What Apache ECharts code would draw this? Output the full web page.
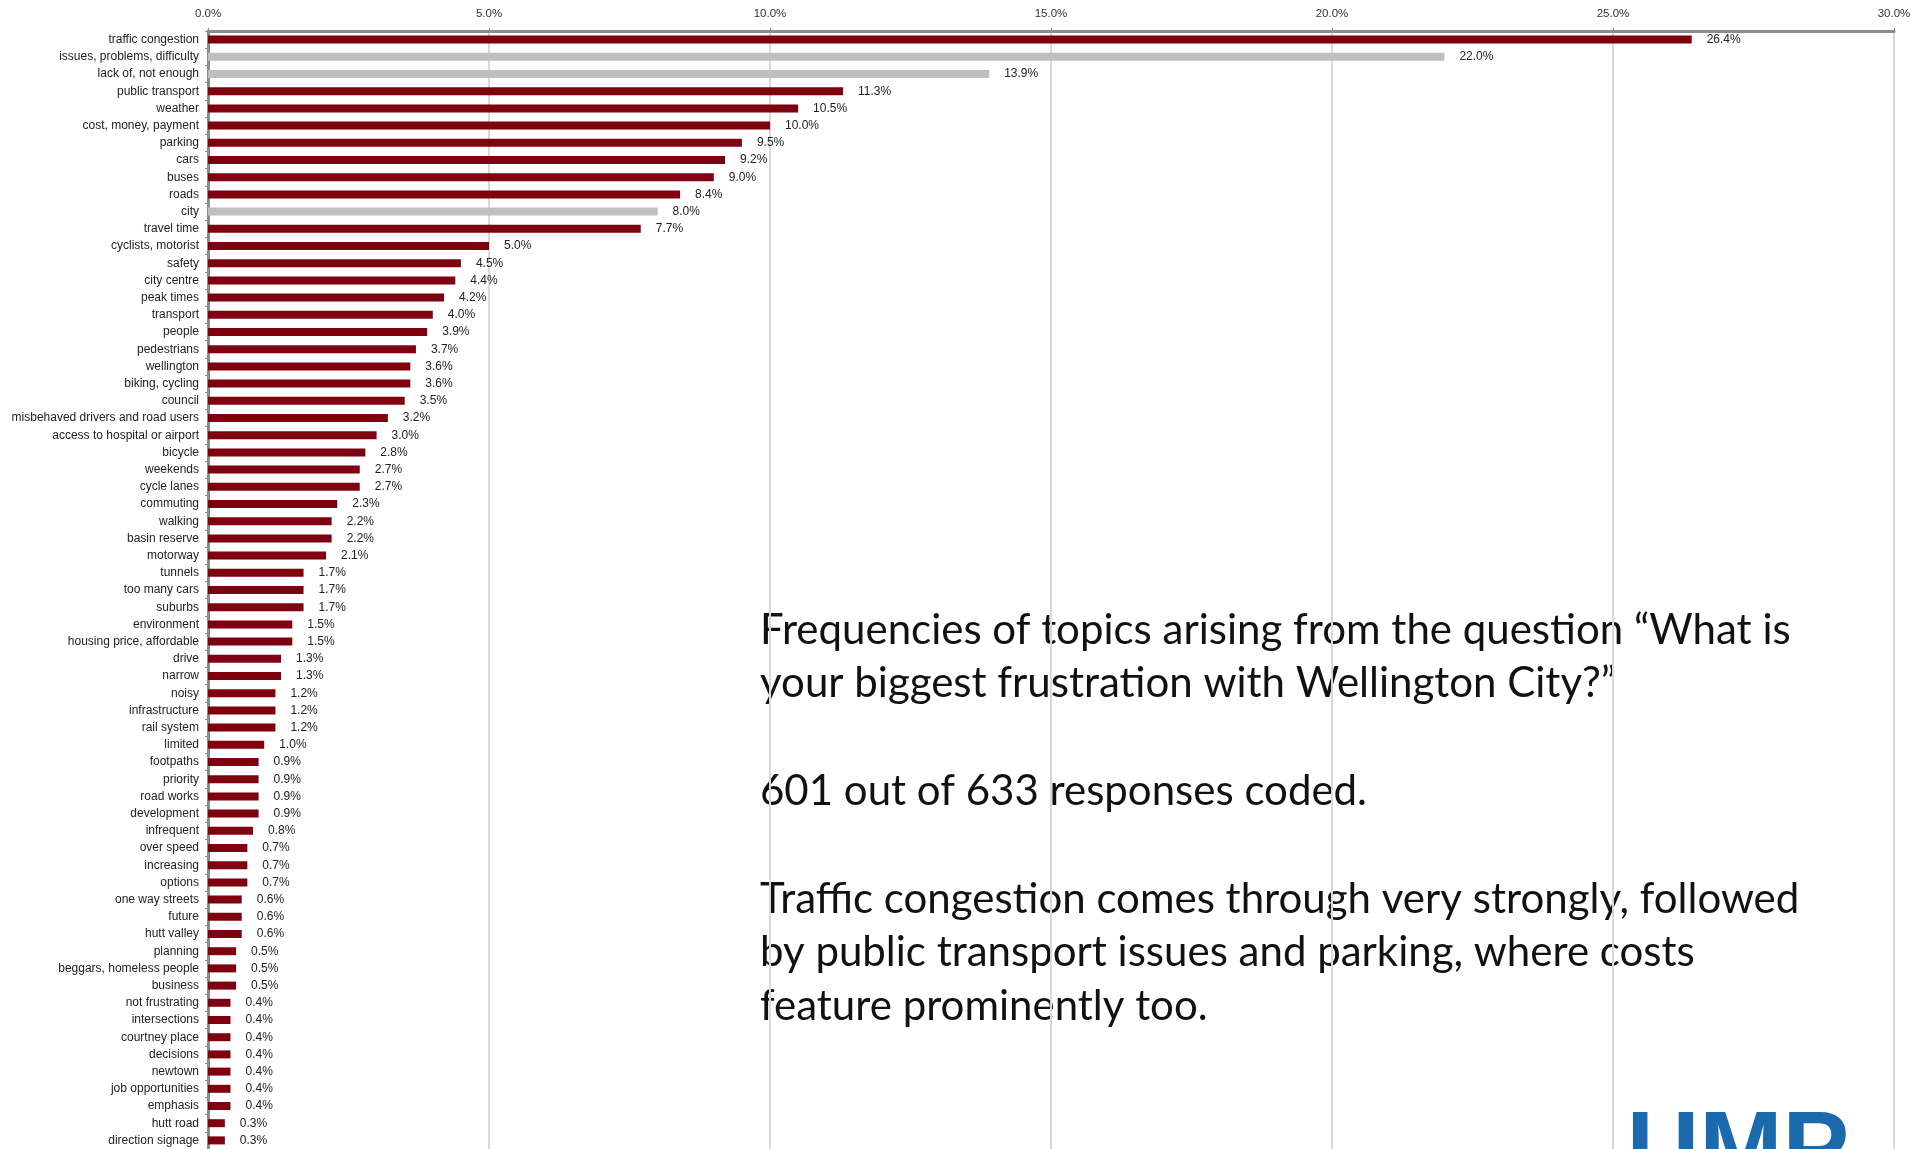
<!DOCTYPE html>
<html>
<head>
<meta charset="utf-8">
<script src="https://cdn.jsdelivr.net/npm/echarts@6/dist/echarts.min.js"></script>
<style>
  html, body { margin: 0; padding: 0; background: #fff; }
  #chart { width: 1928px; height: 1149px; }
</style>
</head>
<body>
<div id="chart"></div>
<script>
const topics = [
  'traffic congestion', 'issues, problems, difficulty', 'lack of, not enough', 'public transport',
  'weather', 'cost, money, payment', 'parking', 'cars', 'buses', 'roads', 'city', 'travel time',
  'cyclists, motorist', 'safety', 'city centre', 'peak times', 'transport', 'people', 'pedestrians',
  'wellington', 'biking, cycling', 'council', 'misbehaved drivers and road users',
  'access to hospital or airport', 'bicycle', 'weekends', 'cycle lanes', 'commuting', 'walking',
  'basin reserve', 'motorway', 'tunnels', 'too many cars', 'suburbs', 'environment',
  'housing price, affordable', 'drive', 'narrow', 'noisy', 'infrastructure', 'rail system',
  'limited', 'footpaths', 'priority', 'road works', 'development', 'infrequent', 'over speed',
  'increasing', 'options', 'one way streets', 'future', 'hutt valley', 'planning',
  'beggars, homeless people', 'business', 'not frustrating', 'intersections', 'courtney place',
  'decisions', 'newtown', 'job opportunities', 'emphasis', 'hutt road', 'direction signage'
];

const shares = [
  26.4, 22.0, 13.9, 11.3, 10.5, 10.0, 9.5, 9.2, 9.0, 8.4, 8.0, 7.7,
  5.0, 4.5, 4.4, 4.2, 4.0, 3.9, 3.7, 3.6, 3.6, 3.5, 3.2,
  3.0, 2.8, 2.7, 2.7, 2.3, 2.2, 2.2, 2.1, 1.7, 1.7, 1.7, 1.5,
  1.5, 1.3, 1.3, 1.2, 1.2, 1.2, 1.0, 0.9, 0.9, 0.9, 0.9, 0.8, 0.7,
  0.7, 0.7, 0.6, 0.6, 0.6, 0.5, 0.5, 0.5, 0.4, 0.4, 0.4,
  0.4, 0.4, 0.4, 0.4, 0.3, 0.3
];

// generic words shown in grey
const greyTopics = ['issues, problems, difficulty', 'lack of, not enough', 'city'];

const noteLines = [
  'Frequencies of topics arising from the question \u201cWhat is',
  'your biggest frustration with Wellington City?\u201d',
  '',
  '601 out of 633 responses coded.',
  '',
  'Traffic congestion comes through very strongly, followed',
  'by public transport issues and parking, where costs',
  'feature prominently too.'
];

const RED = '#7f000f';
const GREY = '#bfbfbf';
const labelFont = '"Liberation Sans", Arial, sans-serif';

const chart = echarts.init(document.getElementById('chart'));

const option = {
  backgroundColor: '#fff',
  animation: false,
  grid: { left: 208, right: 34, top: 31, bottom: -1, containLabel: false },
  xAxis: {
    type: 'value',
    position: 'top',
    min: 0, max: 30, interval: 5,
    axisLine: { show: true, lineStyle: { color: '#8c8c8c', width: 3 } },
    axisTick: { show: true, length: 3, lineStyle: { color: '#8c8c8c', width: 1 } },
    axisLabel: {
      formatter: v => v.toFixed(1) + '%',
      color: '#333', fontSize: 11.5, fontFamily: labelFont, margin: 11
    },
    splitLine: { show: true, lineStyle: { color: '#d9d9d9', width: 2 } }
  },
  yAxis: {
    type: 'category',
    inverse: true,
    data: topics,
    axisLine: { show: true, lineStyle: { color: '#8c8c8c', width: 3 } },
    axisTick: { show: true, length: 3, lineStyle: { color: '#8c8c8c', width: 1 } },
    axisLabel: {
      color: '#222', fontSize: 12, fontFamily: labelFont, margin: 9, interval: 0
    }
  },
  series: [{
    type: 'bar',
    barWidth: 8,
    data: shares.map((v, i) => ({
      value: v,
      itemStyle: { color: greyTopics.includes(topics[i]) ? GREY : RED }
    })),
    label: {
      show: true,
      position: 'right',
      distance: 15,
      formatter: p => p.value.toFixed(1) + '%',
      color: '#222', fontSize: 12, fontFamily: labelFont
    }
  }],
  graphic: [
    ...noteLines.map((t, i) => ({
      type: 'text',
      left: 760,
      top: 609 + i * 53.8,
      style: { text: t, fill: '#111', font: '42px Lato, "Liberation Sans", sans-serif' }
    })),
    {
      type: 'text',
      left: 1627,
      top: 1103,
      style: { text: 'UMP', fill: '#1a6aad', font: 'bold 100px "Liberation Sans", Arial, sans-serif' }
    }
  ]
};

chart.setOption(option);
</script>
</body>
</html>
